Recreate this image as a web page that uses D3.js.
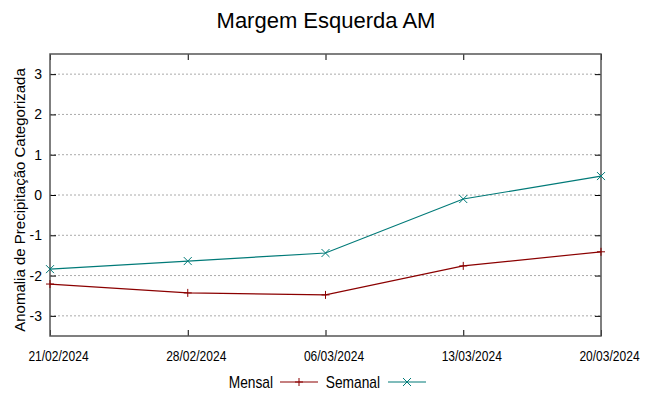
<!DOCTYPE html>
<html>
<head>
<meta charset="utf-8">
<script src="https://cdn.jsdelivr.net/npm/d3@7"></script>
<style>
  body { margin: 0; background: #fff; }
  svg { display: block; font-family: "Liberation Sans", Arial, sans-serif; }
</style>
</head>
<body>
<svg id="chart"></svg>
<script>
const dates = ['21/02/2024', '28/02/2024', '06/03/2024', '13/03/2024', '20/03/2024'];
const mensal = [-2.21, -2.43, -2.48, -1.76, -1.41];
const semanal = [-1.84, -1.64, -1.44, -0.10, 0.47];
const yTicks = [-3, -2, -1, 0, 1, 2, 3];

const width = 649;
const height = 396;
const margin = { top: 54, right: 48, bottom: 60, left: 50 };
const narrow = 0.86; // condensed look of the original font

const svg = d3.select('#chart').attr('width', width).attr('height', height);

const x = d3.scalePoint()
  .domain(dates)
  .range([margin.left, width - margin.right]);

const y = d3.scaleLinear()
  .domain([-3.5, 3.5])
  .range([height - margin.bottom, margin.top]);

// grid
svg.append('g')
  .selectAll('line')
  .data(yTicks)
  .enter()
  .append('line')
  .attr('x1', margin.left)
  .attr('x2', width - margin.right)
  .attr('y1', (d) => y(d))
  .attr('y2', (d) => y(d))
  .attr('stroke', '#aaa')
  .attr('stroke-width', 1)
  .attr('stroke-dasharray', '2,2');

// y axis left + right mirror
svg.append('g')
  .attr('transform', 'translate(' + margin.left + ',0)')
  .call(d3.axisLeft(y).tickValues(yTicks).tickSize(-6).tickPadding(8).tickFormat((d) => String(d)))
  .call((g) => g.select('.domain').remove())
  .call((g) => g.selectAll('text').style('font-size', '14px').attr('fill', '#000'));

svg.append('g')
  .attr('transform', 'translate(' + (width - margin.right) + ',0)')
  .call(d3.axisRight(y).tickValues(yTicks).tickSize(-6).tickFormat(''))
  .call((g) => g.select('.domain').remove());

// x axis (labels sit a little right of their ticks, as in the original)
svg.append('g')
  .attr('transform', 'translate(0,' + (height - margin.bottom) + ')')
  .call(d3.axisBottom(x).tickSize(-6).tickPadding(15))
  .call((g) => g.select('.domain').remove())
  .call((g) => g.selectAll('text')
    .style('font-size', '14px')
    .attr('fill', '#000')
    .attr('transform', 'translate(8,0) scale(' + narrow + ',1)'));

svg.append('g')
  .attr('transform', 'translate(0,' + margin.top + ')')
  .call(d3.axisTop(x).tickSize(-6).tickFormat(''))
  .call((g) => g.select('.domain').remove());

// frame
svg.append('rect')
  .attr('x', margin.left)
  .attr('y', margin.top)
  .attr('width', width - margin.left - margin.right)
  .attr('height', height - margin.top - margin.bottom)
  .attr('fill', 'none')
  .attr('stroke', '#555')
  .attr('stroke-width', 1.5);

const line = d3.line()
  .x((d, i) => x(dates[i]))
  .y((d) => y(d));

const series = [
  { name: 'Mensal', values: mensal, color: '#8b0000', marker: 'plus' },
  { name: 'Semanal', values: semanal, color: '#007a78', marker: 'cross' },
];

const drawMarker = (g, type, cx, cy, color) => {
  const s = 4;
  const p = type === 'plus'
    ? 'M' + (cx - s) + ',' + cy + 'H' + (cx + s) + 'M' + cx + ',' + (cy - s) + 'V' + (cy + s)
    : 'M' + (cx - s) + ',' + (cy - s) + 'L' + (cx + s) + ',' + (cy + s) + 'M' + (cx - s) + ',' + (cy + s) + 'L' + (cx + s) + ',' + (cy - s);
  g.append('path').attr('d', p).attr('stroke', color).attr('stroke-width', 1).attr('fill', 'none');
};

series.forEach((s) => {
  svg.append('path')
    .datum(s.values)
    .attr('d', line)
    .attr('fill', 'none')
    .attr('stroke', s.color)
    .attr('stroke-width', 1.2);
  const g = svg.append('g');
  s.values.forEach((v, i) => drawMarker(g, s.marker, x(dates[i]), y(v), s.color));
});

// title
svg.append('text')
  .attr('x', 326)
  .attr('y', 28)
  .attr('text-anchor', 'middle')
  .style('font-size', '22px')
  .text('Margem Esquerda AM');

// y label
svg.append('text')
  .attr('transform', 'rotate(-90)')
  .attr('x', -(margin.top + (height - margin.top - margin.bottom) / 2) - 5)
  .attr('y', 25)
  .attr('text-anchor', 'middle')
  .style('font-size', '15px')
  .text('Anomalia de Precipitação Categorizada');

// legend
const legend = [
  { textEnd: 273, lx: 280 },
  { textEnd: 380, lx: 388 },
];
legend.forEach((l, i) => {
  const s = series[i];
  svg.append('text')
    .attr('transform', 'translate(' + l.textEnd + ',388) scale(' + narrow + ',1)')
    .attr('text-anchor', 'end')
    .style('font-size', '16px')
    .text(s.name);
  svg.append('line')
    .attr('x1', l.lx).attr('x2', l.lx + 38)
    .attr('y1', 382).attr('y2', 382)
    .attr('stroke', s.color).attr('stroke-width', 1.2);
  drawMarker(svg, s.marker, l.lx + 19, 382, s.color);
});
</script>
</body>
</html>
